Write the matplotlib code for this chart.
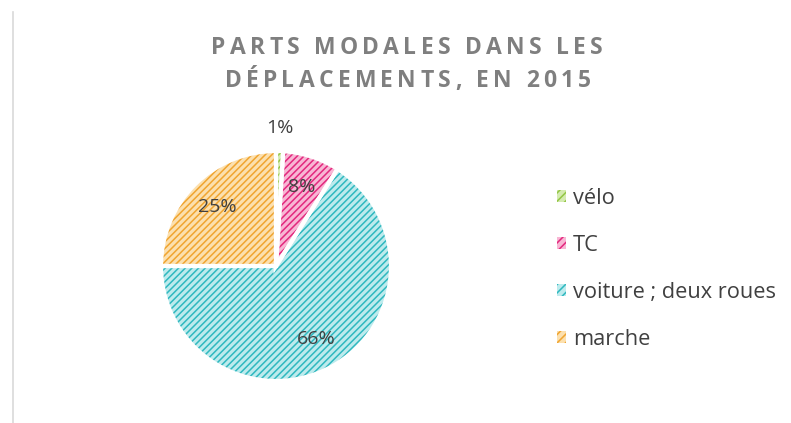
import matplotlib.pyplot as plt
import numpy as np

# Data
labels = ['vélo', 'TC', 'voiture ; deux roues', 'marche']
shares = [1, 8, 66, 25]
pct_text = ['1%', '8%', '66%', '25%']
title_lines = ['PARTS MODALES DANS LES', 'DÉPLACEMENTS, EN 2015']

stripe_colors = ['#92c544', '#e3287e', '#2fb8bf', '#f0a530']
fill_colors = ['#d4ebb0', '#f8b6d4', '#bdebed', '#fce0ae']

plt.rcParams['font.family'] = ['Open Sans', 'DejaVu Sans']
plt.rcParams['hatch.linewidth'] = 1.1

fig = plt.figure(figsize=(7.91, 4.23), dpi=100)
ax = fig.add_axes([0, 0, 1, 1])

center = (276, 157)
radius = 115

wedges, _ = ax.pie(shares, startangle=90, counterclock=False,
                   center=center, radius=radius, colors=fill_colors,
                   wedgeprops=dict(linewidth=0), frame=True)
for w, sc in zip(wedges, stripe_colors):
    w.set_hatch('/////')
    w.set_edgecolor(sc)
    w.set_linewidth(0)

# white separators
ax.pie(shares, startangle=90, counterclock=False, center=center,
       radius=radius, colors=['none'] * 4, frame=True,
       wedgeprops=dict(edgecolor='white', linewidth=3, fill=False))

ax.set_xlim(0, 791)
ax.set_ylim(0, 423)
ax.set_aspect('equal')
ax.axis('off')

# percentage labels
for w, txt, v in zip(wedges, pct_text, shares):
    ang = np.deg2rad((w.theta1 + w.theta2) / 2)
    d = 1.2 if v < 3 else 0.72
    x = center[0] + d * radius * np.cos(ang)
    y = center[1] + d * radius * np.sin(ang)
    ax.text(x, y, txt, ha='center', va='center', fontsize=14,
            color='#404040')


# title with letter spacing, drawn char by char
def spaced_text(line, xc, y, size, track):
    renderer = fig.canvas.get_renderer()
    items = []
    for ch in line:
        t = ax.text(0, y, ch, fontsize=size, fontweight='bold',
                    color='#7f7f7f', va='baseline', ha='left')
        if ch == ' ':
            w = 0.26 * size * 100 / 72
        else:
            w = t.get_window_extent(renderer).width
        items.append((t, w))
    total = sum(w for _, w in items) + track * (len(items) - 1)
    x = xc - total / 2
    for t, w in items:
        t.set_x(x)
        x += w + track


spaced_text(title_lines[0], 407, 423 - 54, 16.5, 4.3)
spaced_text(title_lines[1], 408, 423 - 87, 16.5, 4.3)

# left border line
ax.plot([13, 13], [0, 411], color='#d9d9d9', lw=1.2)

# legend
handles = []
for fc, sc in zip(fill_colors, stripe_colors):
    handles.append(plt.Rectangle((0, 0), 1, 1, facecolor=fc, edgecolor=sc,
                                 hatch='////', linewidth=0))
leg = ax.legend(handles, labels, loc='upper left',
                bbox_to_anchor=(537 / 791, 1 - 168 / 423),
                frameon=False, fontsize=15.7, handlelength=0.45,
                handleheight=0.45, handletextpad=0.3, labelspacing=1.2,
                labelcolor='#404040')

fig.savefig('out.png', dpi=100)
